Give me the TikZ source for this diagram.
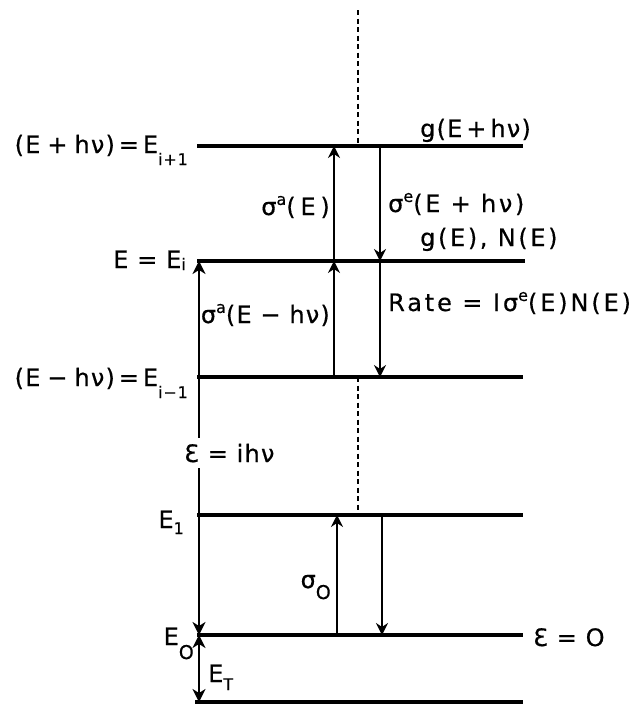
\documentclass[tikz,border=0pt]{standalone}
\usepackage{fontspec}
\setmainfont{DejaVu Sans}[LetterSpace=5,FakeBold=0.5]
\usetikzlibrary{arrows.meta}
\newcommand{\mysub}[2][7pt]{\raisebox{-#1}{\fontsize{16}{16}\selectfont #2}}
\newcommand{\bigsub}[2][10pt]{\raisebox{-#1}{\fontsize{19}{19}\selectfont #2}}
\newcommand{\mysup}[1]{\raisebox{0.42em}{\fontsize{16}{16}\selectfont #1}}
\newcommand{\oeps}{Ɛ}
\newcommand{\gapsp}{\hspace{7pt}}
\newcommand{\gapsm}{\hspace{4pt}}
\newcommand{\lsp}[1]{\addfontfeatures{LetterSpace=#1}}
\begin{document}
\begin{tikzpicture}[x=1pt,y=-1pt,
  level/.style={line width=3.4pt},
  groundlvl/.style={line width=4.4pt},
  larr/.style={line width=2.5pt},
  tipL/.style={-{Stealth[length=13pt,width=13pt,inset=4pt]}},
  marr/.style={line width=2.4pt,-{Stealth[length=12pt,width=12pt,inset=4pt]}},
  dashv/.style={line width=2pt,dash pattern=on 5pt off 3.5pt},
  lbl/.style={inner sep=0pt,font=\fontsize{24}{24}\selectfont}]
\useasboundingbox (0,0) rectangle (643,705);
% level ends
\coordinate (a1) at (197,146); \coordinate (a2) at (523,146);
\coordinate (b1) at (197,261); \coordinate (b2) at (525,261);
\coordinate (c1) at (197,377); \coordinate (c2) at (523,377);
\coordinate (d1) at (197,515); \coordinate (d2) at (523,515);
\coordinate (e1) at (197,635); \coordinate (e2) at (523,635);
\coordinate (f1) at (195,702); \coordinate (f2) at (523,702);
\draw[level] (a1) -- (a2);
\draw[level] (b1) -- (b2);
\draw[level] (c1) -- (c2);
\draw[level] (d1) -- (d2);
\draw[level] (e1) -- (e2);
\draw[groundlvl] (f1) -- (f2);
% dashed continuation
\coordinate (t0) at (358,10); \coordinate (t1) at (358,146);
\coordinate (t2) at (358,377); \coordinate (t3) at (358,515);
\draw[dashv] (t0) -- (t1);
\draw[dashv] (t2) -- (t3);
% transition arrows
\coordinate (ua0) at (334,261); \coordinate (ua1) at (334,146);
\coordinate (da0) at (380,146); \coordinate (da1) at (380,261);
\coordinate (ub0) at (334,377); \coordinate (ub1) at (334,261);
\coordinate (db0) at (380,261); \coordinate (db1) at (380,377);
\coordinate (uc0) at (337,635); \coordinate (uc1) at (337,515);
\coordinate (dc0) at (382,515); \coordinate (dc1) at (382,635);
\draw[marr] (ua0) -- (ua1);
\draw[marr] (da0) -- (da1);
\draw[marr] (ub0) -- (ub1);
\draw[marr] (db0) -- (db1);
\draw[marr] (uc0) -- (uc1);
\draw[marr] (dc0) -- (dc1);
% left energy arrows
\coordinate (L1) at (199,261); \coordinate (L2) at (199,635); \coordinate (L3) at (199,702);
\coordinate (Lm) at (199,448);
\draw[larr,tipL] (Lm) -- (L1);
\draw[larr,tipL] (Lm) -- (L2);
\coordinate (Lk) at (199,668);
\draw[larr,tipL] (Lk) -- (L2);
\draw[larr,tipL] (Lk) -- (L3);
\node[lbl,fill=white,inner xsep=1pt,inner ysep=6pt,anchor=base west] (epsi) at (183,462) {\oeps\ = ihν};
% left labels
\node[lbl,anchor=base east] (lEip) at (188,153) {(E\gapsp+\gapsp hν)\gapsm=\gapsm E\mysub[12pt]{i+1}};
\node[lbl,anchor=base east] (lEi) at (186,268) {E = E\mysub[2pt]{i}};
\node[lbl,anchor=base east] (lEim) at (188,386) {(E\gapsp−\gapsp hν)\gapsm=\gapsm E\mysub[12pt]{i−1}};
\node[lbl,anchor=base east] (lE1) at (184,528) {E\mysub[6pt]{1}};
\node[lbl,anchor=base east] (lE0) at (194,645) {E\bigsub[14pt]{O}};
\node[lbl,anchor=base west] (lET) at (208,682) {E\mysub[8pt]{T}};
% transition labels
\node[lbl,anchor=base east] (sa1) at (330,215) {\lsp{20}σ\mysup{a}(E)};
\node[lbl,anchor=base west] (se1) at (388,212) {\lsp{11}σ\mysup{e}(E + hν)};
\node[lbl,anchor=base west] (g1) at (420,137) {g(E\gapsm+\gapsm hν)};
\node[lbl,anchor=base west] (g2) at (420,246) {\lsp{11}g(E), N(E)};
\node[lbl,anchor=base east] (sa2) at (330,323) {σ\mysup{a}(E − hν)};
\node[lbl,anchor=base west] (rate) at (388,311) {\lsp{12}Rate = Iσ\mysup{e}(E)N(E)};
\node[lbl,anchor=base east] (s0) at (331,588) {σ\bigsub[11pt]{O}};
\node[lbl,anchor=base west] (eps0) at (533,646) {\oeps\ = O};
\end{tikzpicture}
\end{document}
